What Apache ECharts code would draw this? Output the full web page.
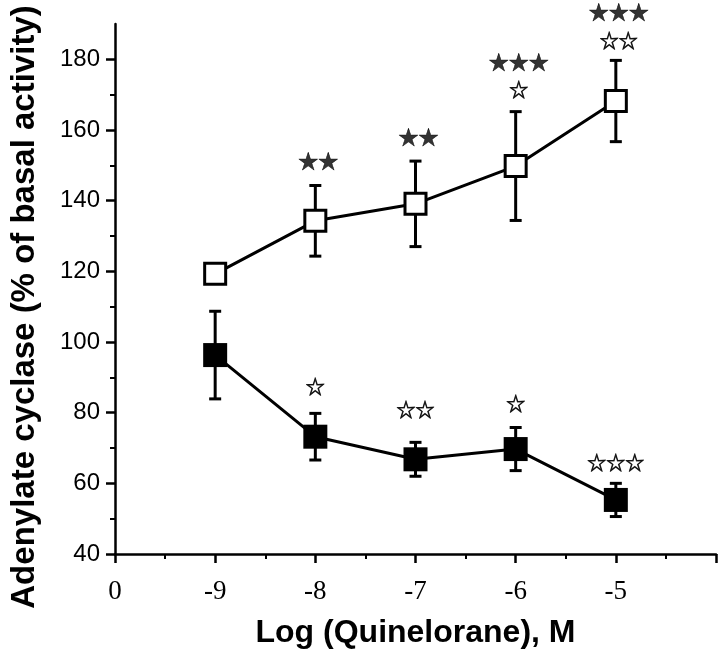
<!DOCTYPE html>
<html><head><meta charset="utf-8">
<script src="https://cdn.jsdelivr.net/npm/echarts@6/dist/echarts.min.js"></script>
<style>html,body{margin:0;padding:0;background:#fff}#c{width:720px;height:654px}</style>
</head><body><div id="c"></div>
<script>
// Log concentration of quinelorane (M)
const xValues = [-9, -8, -7, -6, -5];
// open squares (upper curve)
const openVals = [119.3, 134.3, 139.1, 149.8, 168.2];
const openErr = [1.5, 10.0, 12.1, 15.4, 11.5];
// filled squares (lower curve)
const filledVals = [96.3, 73.2, 66.8, 69.7, 55.3];
const filledErr = [12.4, 6.6, 4.8, 6.1, 4.7];
// axis ticks
const xTickValues = [-10, -9, -8, -7, -6, -5, -4];
const xTickLabels = ['0', '-9', '-8', '-7', '-6', '-5', ''];
const yMajorTicks = [40, 60, 80, 100, 120, 140, 160, 180];
const yMinorTicks = [50, 70, 90, 110, 130, 150, 170];
// significance markers above the upper curve
const upperFilledStarX = [-8, -7, -6, -5];
const upperFilledStarY = [151.0, 158.0, 179.0, 193.2];
const upperFilledStarText = ['★★', '★★', '★★★', '★★★'];
const upperOpenStarX = [-6, -5];
const upperOpenStarY = [171.3, 185.3];
const upperOpenStarText = ['☆', '☆☆'];
// significance markers above the lower curve
const lowerOpenStarX = [-8, -7, -6, -5];
const lowerOpenStarY = [87.3, 80.7, 82.4, 65.8];
const lowerOpenStarText = ['☆', '☆☆', '☆', '☆☆☆'];

const chart = echarts.init(document.getElementById('c'), null, {renderer: 'canvas'});
const BLACK = '#000';

function errRender(params, api) {
  const x = api.value(0), v = api.value(1), e = api.value(2);
  const top = api.coord([x, v + e]), bot = api.coord([x, v - e]);
  const hw = 6;
  const style = {stroke: BLACK, lineWidth: 3};
  return {type: 'group', children: [
    {type: 'line', shape: {x1: top[0], y1: top[1], x2: bot[0], y2: bot[1]}, style},
    {type: 'line', shape: {x1: top[0] - hw, y1: top[1], x2: top[0] + hw, y2: top[1]}, style},
    {type: 'line', shape: {x1: bot[0] - hw, y1: bot[1], x2: bot[0] + hw, y2: bot[1]}, style}
  ]};
}
function starSeries(xs, ys, texts, size, border, dx) {
  return {
    type: 'scatter', clip: false, z: 5, silent: true,
    symbol: 'circle', symbolSize: 1, itemStyle: {color: 'rgba(0,0,0,0)'},
    data: xs.map((x, i) => ({value: [x, ys[i]], name: texts[i]})),
    label: {show: true, position: 'inside', formatter: p => p.name, color: BLACK,
      textBorderColor: BLACK, textBorderWidth: border, offset: [dx, 0],
      fontFamily: 'Noto Sans CJK JP', fontSize: size, align: 'center', verticalAlign: 'middle'}
  };
}

const axisLineStyle = {color: BLACK, width: 2.5};
chart.setOption({
  backgroundColor: '#fff',
  animation: false,
  grid: {left: 112, right: 4, top: 24, bottom: 100, containLabel: false},
  xAxis: [{
    type: 'value', min: -10, max: -4, interval: 1,
    axisLine: {lineStyle: axisLineStyle},
    axisTick: {inside: false, length: 9, lineStyle: {color: BLACK, width: 2.5}},
    minorTick: {show: true, splitNumber: 2, length: 5, lineStyle: {color: BLACK, width: 2}},
    splitLine: {show: false},
    axisLabel: {
      formatter: v => { const i = xTickValues.indexOf(v); return i >= 0 ? xTickLabels[i] : ''; },
      fontFamily: 'Liberation Serif', fontSize: 27, color: BLACK, margin: 24
    },
    name: 'Log (Quinelorane), M', nameLocation: 'middle', nameGap: 63,
    nameTextStyle: {fontFamily: 'Liberation Sans', fontWeight: 'bold', fontSize: 32, color: BLACK}
  }],
  yAxis: [{
    type: 'value', min: 40, max: 190, interval: 10, position: 'left',
    axisLine: {show: true, lineStyle: axisLineStyle},
    axisTick: {show: true, inside: false, length: 9, customValues: yMajorTicks, lineStyle: {color: BLACK, width: 2.5}},
    splitLine: {show: false},
    axisLabel: {customValues: yMajorTicks, fontFamily: 'Liberation Sans', fontSize: 24, color: BLACK, margin: 15},
    name: 'Adenylate cyclase (% of basal activity)', nameLocation: 'middle', nameGap: 74, nameRotate: 90,
    nameTextStyle: {fontFamily: 'Liberation Sans', fontWeight: 'bold', fontSize: 33, color: BLACK, padding: [0, 36, 0, 0]}
  }, {
    type: 'value', min: 40, max: 190, interval: 10, position: 'left', offset: 0,
    axisLine: {show: false},
    axisTick: {show: true, inside: false, length: 5, customValues: yMinorTicks, lineStyle: {color: BLACK, width: 2}},
    axisLabel: {show: false},
    splitLine: {show: false}
  }],
  series: [
    {type: 'custom', z: 1, renderItem: errRender, data: xValues.map((x, i) => [x, openVals[i], openErr[i]])},
    {type: 'custom', z: 1, renderItem: errRender, data: xValues.map((x, i) => [x, filledVals[i], filledErr[i]])},
    {name: 'Open squares', type: 'line', z: 3, data: xValues.map((x, i) => [x, openVals[i]]),
      symbol: 'rect', symbolSize: 21, showAllSymbol: true,
      lineStyle: {color: BLACK, width: 3},
      itemStyle: {color: '#fff', borderColor: BLACK, borderWidth: 3}},
    {name: 'Filled squares', type: 'line', z: 3, data: xValues.map((x, i) => [x, filledVals[i]]),
      symbol: 'rect', symbolSize: 24, showAllSymbol: true,
      lineStyle: {color: BLACK, width: 3},
      itemStyle: {color: BLACK, borderColor: BLACK, borderWidth: 0}},
    starSeries(upperFilledStarX, upperFilledStarY, upperFilledStarText, 20, 0.6, 3),
    starSeries(upperOpenStarX, upperOpenStarY, upperOpenStarText, 19, 0.8, 3),
    starSeries(lowerOpenStarX, lowerOpenStarY, lowerOpenStarText, 19, 0.8, 0)
  ]
});
</script></body></html>
